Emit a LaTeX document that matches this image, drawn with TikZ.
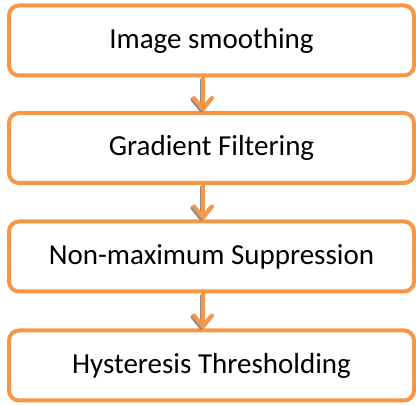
\documentclass[tikz,border=0pt]{standalone}
\usepackage{fontspec}
\setmainfont{Carlito}
\usetikzlibrary{arrows.meta}
\definecolor{accent}{HTML}{F79646}
\definecolor{shade}{HTML}{8C8C8C}
\begin{document}
\begin{tikzpicture}[x=1pt,y=-1pt]
\tikzset{
  stage/.style={draw=accent, line width=4pt, rounded corners=10pt, fill=white,
    minimum width=405pt, minimum height=70pt, inner sep=0pt,
    font=\fontsize{29}{34}\selectfont},
  flow/.style={draw=accent, line width=4pt,
    -{Straight Barb[length=11pt,width=18pt,round]}},
  flowshadow/.style={flow, draw=shade, transform canvas={shift={(-1.5pt,-1.5pt)}}}
}
\useasboundingbox (0,0) rectangle (416,406);
\node[stage] (b1) at (211.5,40.5) {Image smoothing};
\node[stage] (b2) at (211.5,148) {Gradient Filtering};
\node[stage] (b3) at (211.5,256.5) {Non-maximum Suppression};
\node[stage] (b4) at (211.5,365.5) {Hysteresis Thresholding};
\foreach \a/\b in {b1/b2,b2/b3,b3/b4}{
  \draw[flowshadow] ([xshift=-8.5pt]\a.south) -- ([xshift=-8.5pt]\b.north);
  \draw[flow] ([xshift=-8.5pt]\a.south) -- ([xshift=-8.5pt]\b.north);
}
\end{tikzpicture}
\end{document}
